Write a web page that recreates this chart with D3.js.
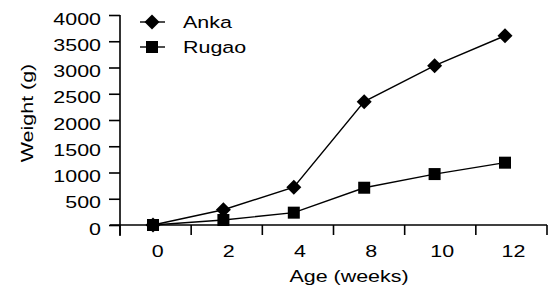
<!DOCTYPE html>
<html><head><meta charset="utf-8">
<script src="https://cdn.jsdelivr.net/npm/d3@7"></script>
<style>
html,body{margin:0;padding:0;background:#fff;}
text{font-family:"Liberation Sans",Arial,sans-serif;fill:#000;}
</style></head>
<body><svg id="c" width="550" height="289"></svg>
<script>
const categories = ["0","2","4","8","10","12"];
const anka  = [0, 290, 720, 2350, 3035, 3605];
const rugao = [0, 95, 235, 710, 970, 1187];
const yTicks = [0,500,1000,1500,2000,2500,3000,3500,4000];
const seriesNames = ["Anka","Rugao"];
const xTitle = "Age (weeks)";
const yTitle = "Weight (g)";

const SX = 1.3, FS = 16.5;
const svg = d3.select("#c");
const y = d3.scaleLinear().domain([0,4000]).range([225,15]);
const xb = d3.scaleBand().domain(categories).range([120,547]);
const xp = d3.scalePoint().domain(categories).range([153,505]);

// Y axis
const gy = svg.append("g").attr("transform","translate(120,0)")
  .call(d3.axisLeft(y).tickValues(yTicks).tickSize(11).tickSizeOuter(0).tickPadding(0).tickFormat(d3.format("d")));
gy.select(".domain").attr("stroke","#000").attr("stroke-width",1.6).attr("d","M0,15V236");
gy.selectAll(".tick line").attr("stroke","#000").attr("stroke-width",1.6);
gy.selectAll(".tick text").attr("x",0).attr("dy",null).attr("y",0)
  .attr("transform","translate(-19,9) scale("+SX+",1)")
  .style("font-size",FS+"px").attr("fill","#000");
gy.attr("font-family",null).attr("font-size",null);

// X axis
const gx = svg.append("g").attr("transform","translate(0,225)");
gx.append("line").attr("x1",110).attr("x2",xb.range()[1]).attr("y1",0).attr("y2",0)
  .attr("stroke","#000").attr("stroke-width",1.6);
const bounds = categories.map(c=>xb(c)).concat([xb.range()[1]]);
gx.selectAll("line.b").data(bounds).enter().append("line").attr("class","b")
  .attr("x1",d=>d).attr("x2",d=>d).attr("y1",0).attr("y2",10)
  .attr("stroke","#000").attr("stroke-width",1.6);
gx.selectAll("text.xl").data(categories).enter().append("text").attr("class","xl")
  .attr("transform",d=>"translate("+(xb(d)+xb.bandwidth()/2+2)+",32) scale("+SX+",1)")
  .attr("text-anchor","middle").style("font-size",FS+"px").text(d=>d);

// Titles
svg.append("text").attr("transform","translate(349,281.5) scale("+SX+",1)")
  .attr("text-anchor","middle").style("font-size",FS+"px").text(xTitle);
svg.append("text").attr("transform","translate(32.5,113) rotate(-90) scale("+SX+",1)")
  .attr("text-anchor","middle").style("font-size",FS+"px").text(yTitle);

// Lines
const line = d3.line().x((d,i)=>xp(categories[i])).y(d=>y(d));
[anka,rugao].forEach(s=>{
  svg.append("path").attr("d",line(s)).attr("fill","none").attr("stroke","#000").attr("stroke-width",1.4);
});
const diamond = "M0,-7.5L7.5,0L0,7.5L-7.5,0Z";
svg.selectAll("path.dm").data(anka).enter().append("path").attr("class","dm")
  .attr("d",diamond).attr("transform",(d,i)=>"translate("+xp(categories[i])+","+y(d)+")");
svg.selectAll("rect.sq").data(rugao).enter().append("rect").attr("class","sq")
  .attr("x",(d,i)=>xp(categories[i])-6).attr("y",d=>y(d)-6).attr("width",12).attr("height",12);

// Legend
const lg = svg.append("g");
seriesNames.forEach((n,i)=>{
  const cy = 22 + i*25;
  lg.append("line").attr("x1",140).attr("x2",165).attr("y1",cy).attr("y2",cy).attr("stroke","#000").attr("stroke-width",1.4);
  if(i===0) lg.append("path").attr("d",diamond).attr("transform","translate(152,"+cy+")");
  else lg.append("rect").attr("x",146).attr("y",cy-6).attr("width",12).attr("height",12);
  lg.append("text").attr("transform","translate(183,"+(cy+6)+") scale("+SX+",1)")
    .style("font-size",FS+"px").text(n);
});
</script></body></html>
